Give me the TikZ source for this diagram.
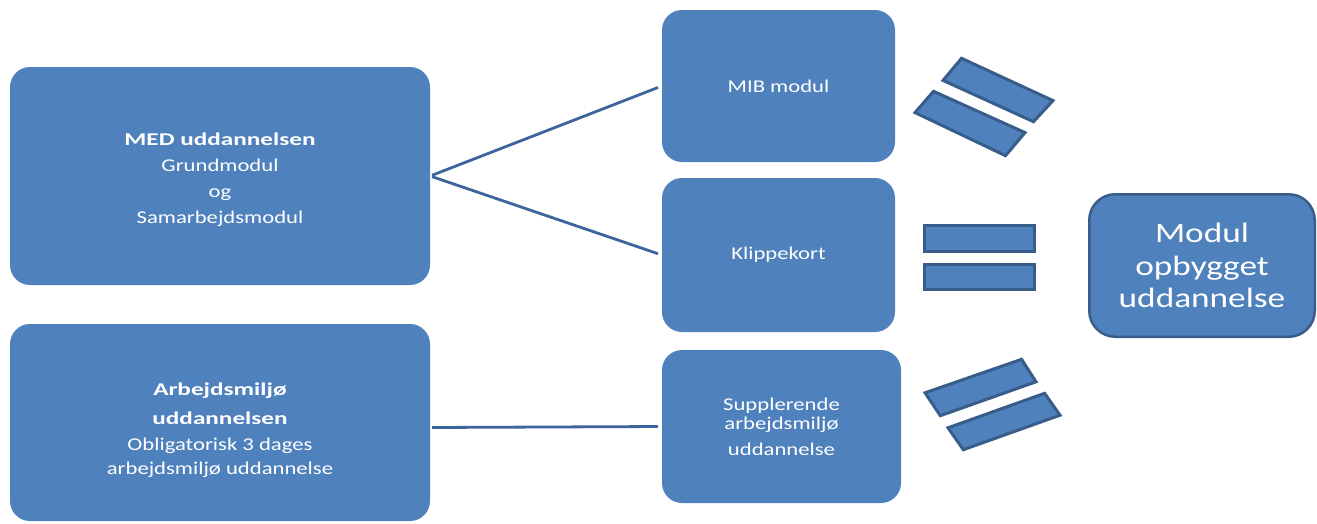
\documentclass[tikz,border=0pt]{standalone}
\usepackage{fontspec}
\setmainfont{Carlito}[FakeStretch=1.26, BoldFeatures={FakeStretch=1.4}]
\definecolor{boxblue}{RGB}{79,129,189}
\definecolor{edgeblue}{RGB}{56,93,138}
\definecolor{linkblue}{RGB}{62,100,158}
\tikzset{
  modbox/.style={
    rectangle, rounded corners=20pt, fill=boxblue, draw=none,
    text=white, align=center,
    font=\fontsize{18}{26}\selectfont
  },
  bigbox/.style={
    modbox, rounded corners=26pt, draw=edgeblue, line width=2.5pt,
    font=\fontsize{28}{32.5}\selectfont
  },
  link/.style  = {draw=linkblue, line width=2.8pt, shorten >=4pt, shorten <=2pt},
  eqbar/.style = {fill=boxblue, draw=edgeblue, line width=3pt},
}

\begin{document}
\begin{tikzpicture}[x=1pt, y=-1pt]
\useasboundingbox (0,0) rectangle (1317,523);

%% ── Left boxes ──────────────────────────────────────────────────────────────
\node[modbox, minimum width=420pt, minimum height=218pt] (med) at (220,176)
  {\rule{0pt}{19.5pt}\textbf{MED uddannelsen}\\Grundmodul\\og\\Samarbejdsmodul};
\node[modbox, minimum width=420pt, minimum height=197pt] (arb) at (220,422.5)
  {\rule{0pt}{27.5pt}\textbf{Arbejdsmiljø}\\[3pt]\textbf{uddannelsen}\\Obligatorisk 3 dages\\[-2pt]arbejdsmiljø uddannelse};

%% ── Middle boxes ────────────────────────────────────────────────────────────
\node[modbox, minimum width=233pt, minimum height=152pt] (mib) at (778.5,86)  {MIB modul};
\node[modbox, minimum width=233pt, minimum height=154pt] (klip) at (778.5,255) {Klippekort};
\node[modbox, minimum width=239pt, minimum height=153pt] (supp) at (781.5,426.5)
  {Supplerende\\[-7pt]arbejdsmiljø\\uddannelse};

%% ── Result box ──────────────────────────────────────────────────────────────
\node[bigbox, minimum width=225.5pt, minimum height=142.5pt] (res) at (1202,265.5)
  {Modul\\opbygget\\uddannelse};

%% ── Connectors ──────────────────────────────────────────────────────────────
\draw[link] (med.east) -- (mib.west);
\draw[link] (med.east) -- (klip.west);
\draw[link] ([yshift=-5pt]arb.east) -- (supp.west);

%% ── Equal signs ─────────────────────────────────────────────────────────────
\draw[eqbar] (961.5,58.3) -- (1053,100.6) -- (1033.5,121.7) -- (943,80.4) -- cycle;
\draw[eqbar] (933.5,91.3) -- (1025,132.6) -- (1005.5,155.7) -- (915,112.6) -- cycle;

\draw[eqbar] (924,225) rectangle (1034,251);
\draw[eqbar] (924,264) rectangle (1034,289);

\draw[eqbar] (925,392.8) -- (1021.6,359.3) -- (1036,381.8) -- (940.3,415.7) -- cycle;
\draw[eqbar] (948,427.8) -- (1044.6,393.3) -- (1060,415.2) -- (963.3,449.7) -- cycle;

\end{tikzpicture}
\end{document}
